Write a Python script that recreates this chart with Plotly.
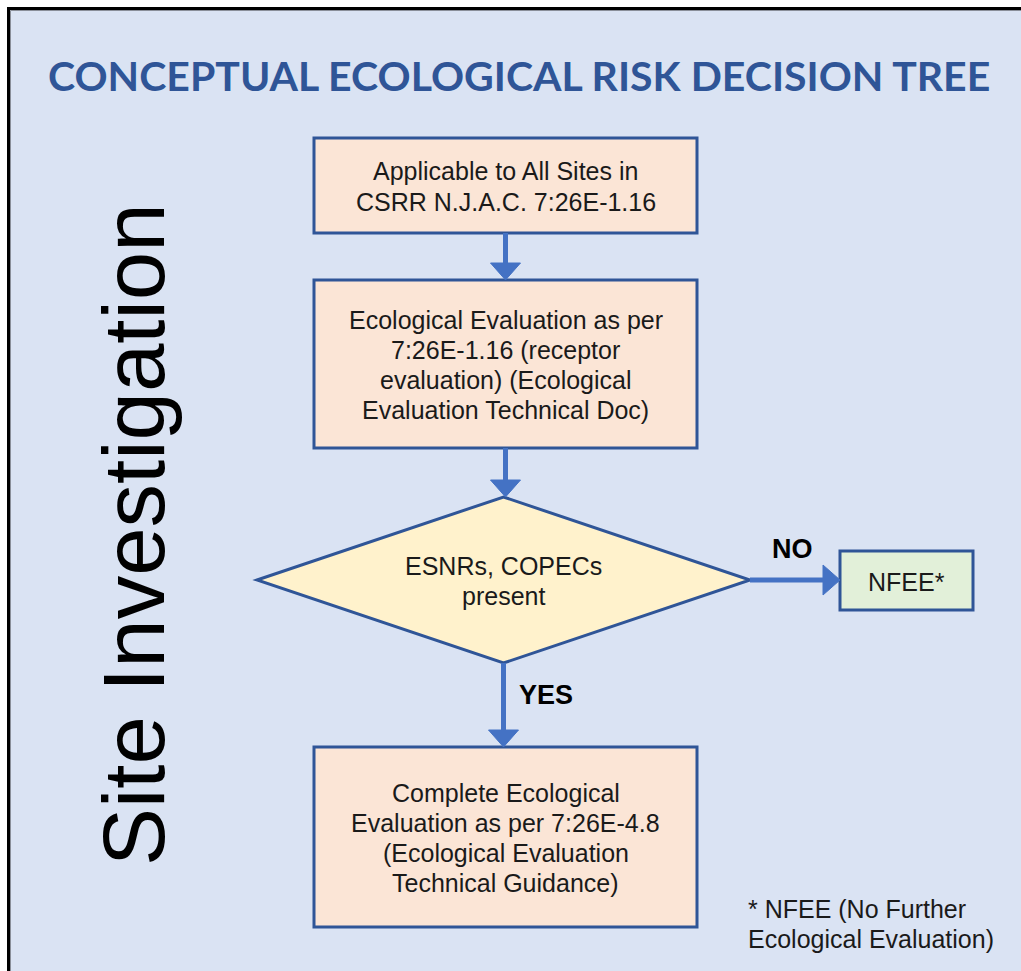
import plotly.graph_objects as go

# ---------------- data ----------------
title_text = "CONCEPTUAL ECOLOGICAL RISK DECISION TREE"
side_label = "Site Investigation"
node_ids = ["start", "eval", "decision", "complete", "nfee"]
node_lines = [
    ["Applicable to All Sites in", "CSRR N.J.A.C. 7:26E-1.16"],
    ["Ecological Evaluation as per", "7:26E-1.16 (receptor", "evaluation) (Ecological", "Evaluation Technical Doc)"],
    ["ESNRs, COPECs", "present"],
    ["Complete Ecological", "Evaluation as per 7:26E-4.8", "(Ecological Evaluation", "Technical Guidance)"],
    ["NFEE*"],
]
edges = [("start", "eval", ""), ("eval", "decision", ""), ("decision", "complete", "YES"), ("decision", "nfee", "NO")]
footnote_lines = ["* NFEE (No Further", "Ecological Evaluation)"]

# ---------------- layout / style ----------------
W, H = 1021, 971
BG = "#DAE3F3"
BORDER = "#2F5597"
ARROW = "#4472C4"
geom = {  # x0, y0, x1, y1 in pixels
    "start": (314, 138, 697, 233),
    "eval": (314, 280, 697, 448),
    "decision": (257, 497, 750, 663),
    "complete": (314, 747, 697, 927),
    "nfee": (840, 551, 973, 610),
}
shape_kind = {"start": "rect", "eval": "rect", "decision": "diamond", "complete": "rect", "nfee": "rect"}
fills = {"start": "#FBE5D6", "eval": "#FBE5D6", "decision": "#FFF2CC", "complete": "#FBE5D6", "nfee": "#E2F0D9"}
BODY_FONT = "Liberation Sans, Arial, sans-serif"
FS = 25
LINE_H = 30.3

fig = go.Figure()
shapes = []
annotations = []

# background panel with black border (top/left visible)
shapes.append(dict(type="rect", xref="x", yref="y", x0=8.5, y0=8.5, x1=W + 20, y1=H + 20,
                   fillcolor=BG, line=dict(color="black", width=3), layer="below"))
shapes.append(dict(type="rect", xref="x", yref="y", x0=10.5, y0=10.5, x1=W + 20, y1=H + 20,
                   fillcolor="rgba(0,0,0,0)", line=dict(color="#8a8f99", width=1), layer="below"))

# nodes
for nid, lines in zip(node_ids, node_lines):
    x0, y0, x1, y1 = geom[nid]
    cx, cy = (x0 + x1) / 2, (y0 + y1) / 2
    if shape_kind[nid] == "rect":
        shapes.append(dict(type="rect", xref="x", yref="y", x0=x0, y0=y0, x1=x1, y1=y1,
                           fillcolor=fills[nid], line=dict(color=BORDER, width=3)))
    else:
        path = f"M {x0},{cy} L {cx},{y0} L {x1},{cy} L {cx},{y1} Z"
        shapes.append(dict(type="path", xref="x", yref="y", path=path,
                           fillcolor=fills[nid], line=dict(color=BORDER, width=3)))
    n = len(lines)
    for i, t in enumerate(lines):
        annotations.append(dict(x=cx, y=cy + (i - (n - 1) / 2) * LINE_H + 1, xref="x", yref="y",
                                text=t, showarrow=False, xanchor="center", yanchor="middle",
                                font=dict(family=BODY_FONT, size=FS, color="#1a1a1a")))

# edges
HEAD_L, HEAD_W = 17, 15
for src, dst, lab in edges:
    sx0, sy0, sx1, sy1 = geom[src]
    tx0, ty0, tx1, ty1 = geom[dst]
    scx, scy = (sx0 + sx1) / 2, (sy0 + sy1) / 2
    tcx, tcy = (tx0 + tx1) / 2, (ty0 + ty1) / 2
    if abs(tcx - scx) < 5:  # vertical
        xa, ya, yb = scx, sy1, ty0
        shapes.append(dict(type="line", xref="x", yref="y", x0=xa, y0=ya, x1=xa, y1=yb - HEAD_L + 2,
                           line=dict(color=ARROW, width=5)))
        shapes.append(dict(type="path", xref="x", yref="y",
                           path=f"M {xa - HEAD_W},{yb - HEAD_L} L {xa + HEAD_W},{yb - HEAD_L} L {xa},{yb} Z",
                           fillcolor=ARROW, line=dict(color=ARROW, width=1)))
        if lab:
            annotations.append(dict(x=xa + 42, y=(ya + yb) / 2 - 10, xref="x", yref="y", text=f"<b>{lab}</b>",
                                    showarrow=False, xanchor="center", yanchor="middle",
                                    font=dict(family=BODY_FONT, size=27, color="black")))
    else:  # horizontal
        ya, xa, xb = scy, sx1, tx0
        shapes.append(dict(type="line", xref="x", yref="y", x0=xa, y0=ya, x1=xb - HEAD_L + 2, y1=ya,
                           line=dict(color=ARROW, width=5)))
        shapes.append(dict(type="path", xref="x", yref="y",
                           path=f"M {xb - HEAD_L},{ya - HEAD_W} L {xb - HEAD_L},{ya + HEAD_W} L {xb},{ya} Z",
                           fillcolor=ARROW, line=dict(color=ARROW, width=1)))
        if lab:
            annotations.append(dict(x=(xa + xb) / 2 - 3, y=ya - 31, xref="x", yref="y", text=f"<b>{lab}</b>",
                                    showarrow=False, xanchor="center", yanchor="middle",
                                    font=dict(family=BODY_FONT, size=27, color="black")))

# title
annotations.append(dict(x=518.5, y=75, xref="x", yref="y", text=f"<b>{title_text}</b>", showarrow=False,
                        xanchor="center", yanchor="middle",
                        font=dict(family="Lato, sans-serif", size=41, color=BORDER)))
# side label
annotations.append(dict(x=133, y=535, xref="x", yref="y", text=side_label, showarrow=False, textangle=-90,
                        xanchor="center", yanchor="middle",
                        font=dict(family=BODY_FONT, size=87, color="black")))
# footnote
for i, t in enumerate(footnote_lines):
    annotations.append(dict(x=746, y=909 + i * LINE_H, xref="x", yref="y", text=t, showarrow=False,
                            xanchor="left", yanchor="middle",
                            font=dict(family=BODY_FONT, size=FS, color="#1a1a1a")))

fig.update_layout(
    width=W, height=H, margin=dict(l=0, r=0, t=0, b=0),
    paper_bgcolor="white", plot_bgcolor="white",
    xaxis=dict(range=[0, W], visible=False, fixedrange=True),
    yaxis=dict(range=[H, 0], visible=False, fixedrange=True),
    shapes=shapes, annotations=annotations, showlegend=False,
)
fig.write_html("out.html", config={"displayModeBar": False},
               post_script="document.body.style.margin='0';document.body.style.overflow='hidden';")
